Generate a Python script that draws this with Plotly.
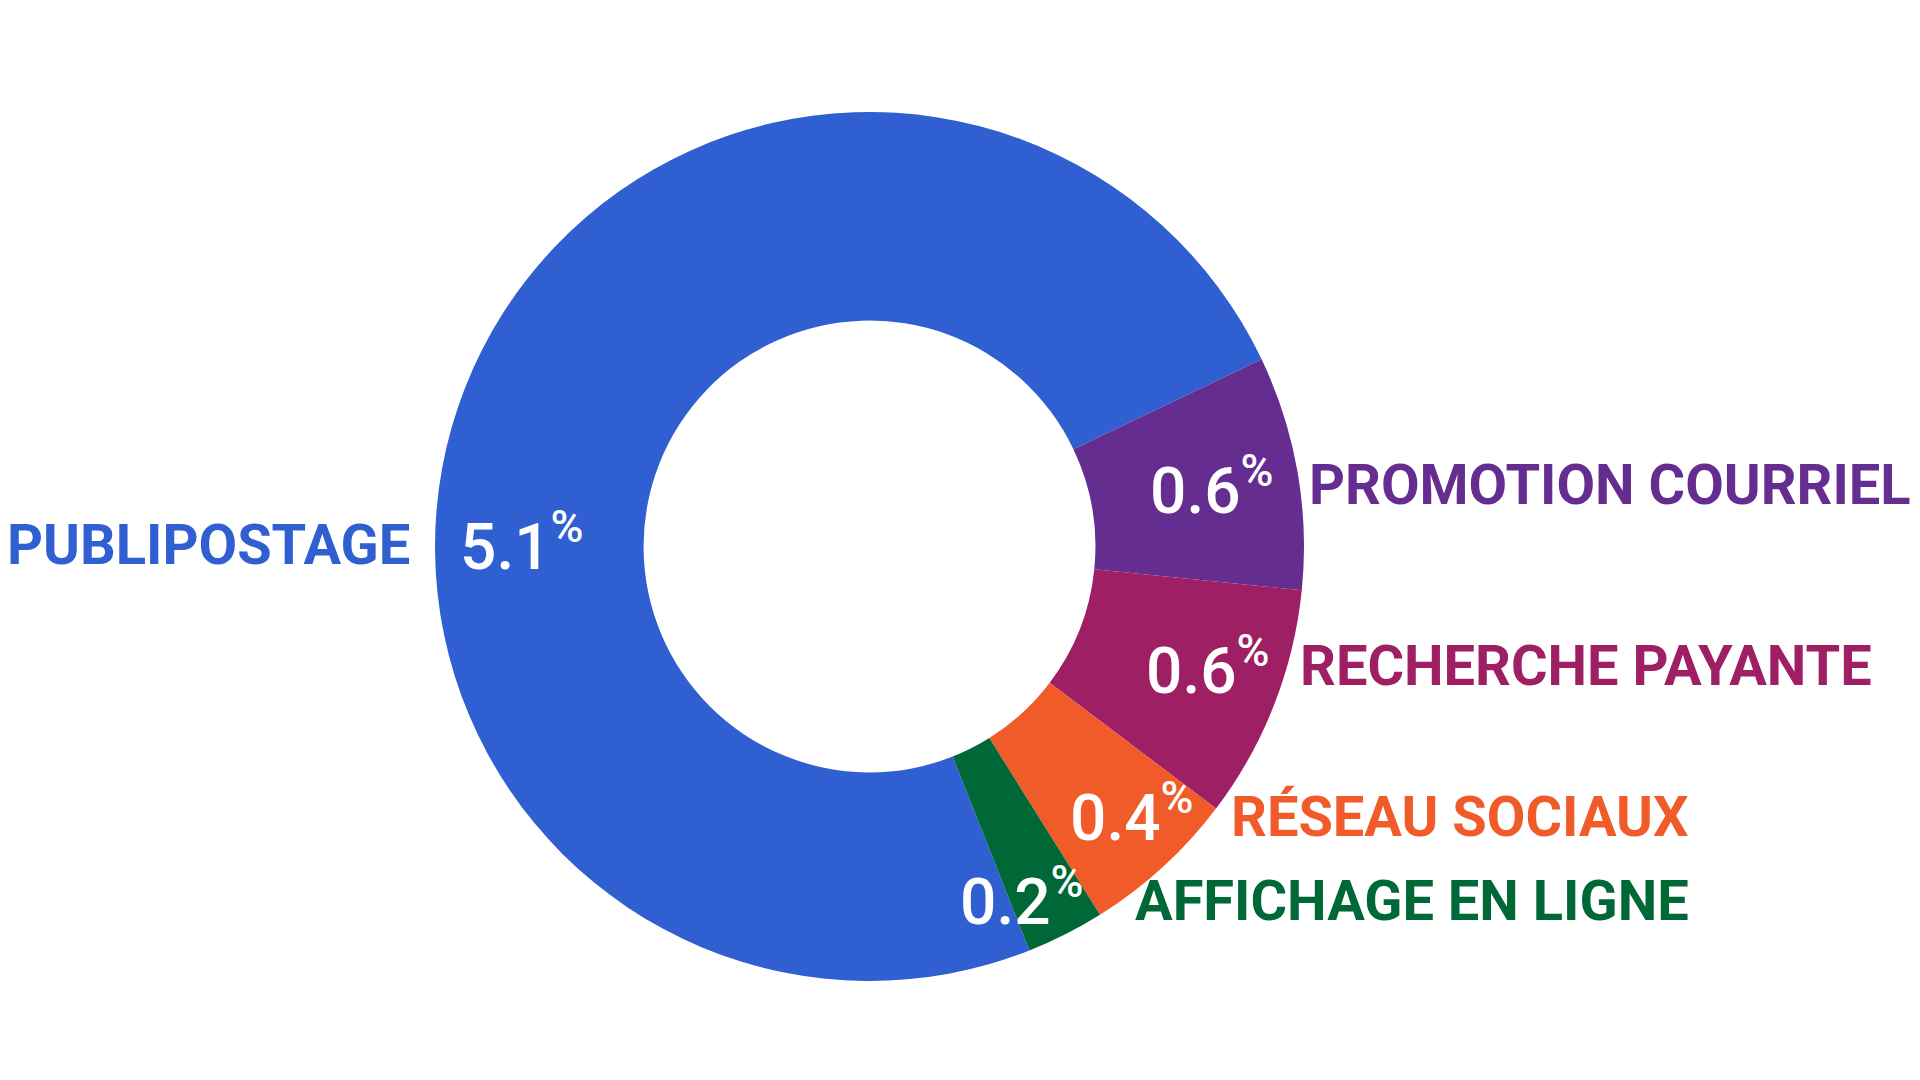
import plotly.graph_objects as go

# ------------------------------------------------------------
# Données
# ------------------------------------------------------------
canaux = ["PUBLIPOSTAGE", "PROMOTION COURRIEL", "RECHERCHE PAYANTE",
          "RÉSEAU SOCIAUX", "AFFICHAGE EN LIGNE"]
pourcentages = [5.1, 0.6, 0.6, 0.4, 0.2]
couleurs = ["#2F5FD0", "#662D91", "#9E1F63", "#F15A29", "#006837"]

# ------------------------------------------------------------
# Mise en page (pixels sur une toile 1920 x 1080)
# ------------------------------------------------------------
W, H = 1920, 1080
OFF = 8                               # marge du <body> de la page html
CX, CY, R = 869.5 - OFF, 546.5 - OFF, 434.5   # centre et rayon de l'anneau
# (x, y, ancrage) du nom de chaque canal
pos_noms = [(412, 544, "right"), (1307, 484, "left"), (1298, 665, "left"),
            (1229, 816, "left"), (1133, 900, "left")]
# (x, y) du pourcentage écrit dans l'anneau
pos_pct = [(458, 541), (1148, 485), (1144, 665), (1068, 812), (958, 896)]

# ------------------------------------------------------------
# Anneau
# ------------------------------------------------------------
fig = go.Figure(go.Pie(
    labels=canaux, values=pourcentages, hole=0.52, sort=False,
    direction="clockwise", rotation=158.4,
    marker=dict(colors=couleurs, line=dict(width=0)),
    textinfo="none", hoverinfo="label+value", showlegend=False,
    domain=dict(x=[(CX - R) / W, (CX + R) / W],
                y=[(H - CY - R) / H, (H - CY + R) / H]),
))

# noms des canaux, à l'extérieur
for nom, coul, (x, y, anc) in zip(canaux, couleurs, pos_noms):
    fig.add_annotation(x=(x - OFF) / W, y=1 - (y - OFF + 1) / H,
                       xref="paper", yref="paper",
                       text=nom, showarrow=False, xanchor=anc, yanchor="middle",
                       font=dict(family="Roboto", size=56, color=coul, weight="bold"))

# pourcentages, dans l'anneau
for v, (x, y) in zip(pourcentages, pos_pct):
    fig.add_annotation(x=(x - OFF) / W, y=1 - (y - OFF + 1) / H,
                       xref="paper", yref="paper",
                       text=f"{v}<sup>%</sup>", showarrow=False,
                       xanchor="left", yanchor="middle",
                       font=dict(family="Roboto", size=64, color="white", weight=500))

fig.update_layout(width=W, height=H, margin=dict(l=0, r=0, t=0, b=0),
                  paper_bgcolor="white", plot_bgcolor="white")

fig.write_html("out.html")
